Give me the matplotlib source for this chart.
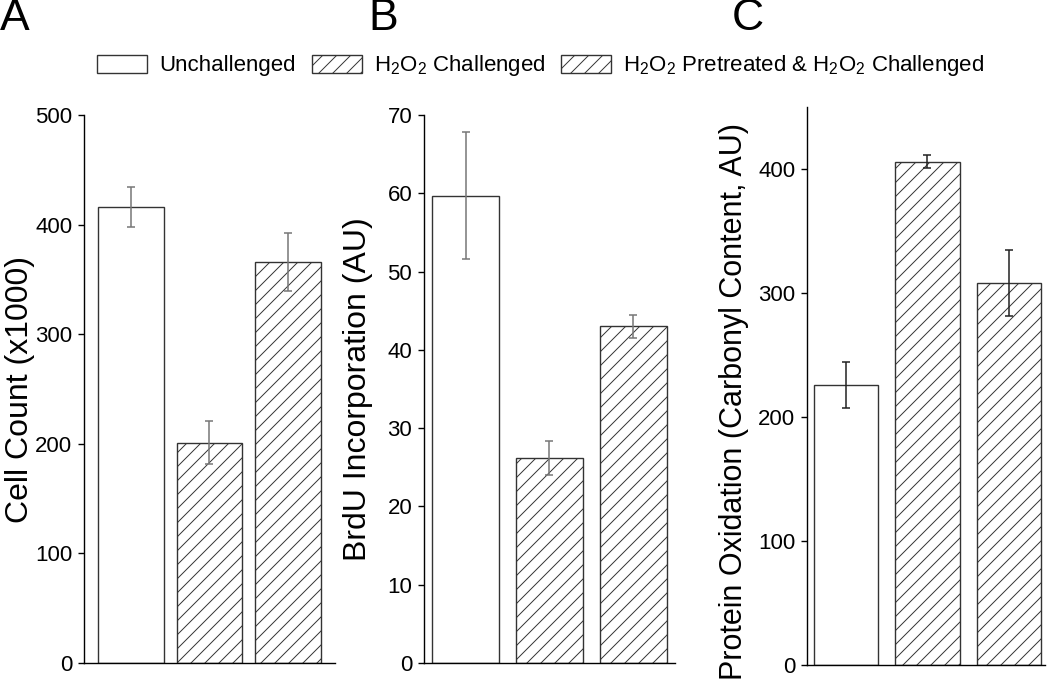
import matplotlib.pyplot as plt
from matplotlib.patches import Patch

# render at 84 dpi so the '//' hatch gets the tighter spacing of the original;
# sizes below are given as if at 100 dpi and scaled by F
DPI = 84
F = 100 / DPI

plt.rcParams['font.family'] = ['Liberation Sans', 'DejaVu Sans']
plt.rcParams['mathtext.default'] = 'regular'
plt.rcParams['hatch.linewidth'] = 0.7 * F

groups = ['Unchallenged', 'H$_2$O$_2$ Challenged',
          'H$_2$O$_2$ Pretreated & H$_2$O$_2$ Challenged']

cell_count = [416, 201, 366]
cell_count_err = [18.5, 19.5, 26.5]

brdu = [59.7, 26.2, 43.0]
brdu_err = [8.1, 2.2, 1.5]

carbonyl = [226, 406, 308]
carbonyl_err = [18.5, 5, 26.5]

ylabels = ['Cell Count (x1000)', 'BrdU Incorporation (AU)',
           'Protein Oxidation (Carbonyl Content, AU)']
panel_letters = ['A', 'B', 'C']

hatches = ['', '//', '//']
edge = '#333333'

fig = plt.figure(figsize=(1050 / DPI, 689 / DPI), dpi=DPI)

# axes rects in figure coords
rects = [
    [0.080, 0.0377, 0.239, 0.7953],
    [0.4038, 0.0377, 0.239, 0.7953],
    [0.7686, 0.0348, 0.227, 0.8099],
]
ylims = [(0, 500), (0, 70), (0, 450)]
yticks = [range(0, 501, 100), range(0, 71, 10), range(0, 401, 100)]
xlims = [(-0.6, 2.6), (-0.5, 2.5), (-0.48, 2.45)]
widths = [0.84, 0.8, 0.79]
err_colors = ['#777777', '#777777', '#222222']
label_x = [-0.195, -0.203, -0.245]
label_y = [0.5, 0.5, 0.473]
label_size = [23, 23, 22]
letter_x = [15, 383, 748]

data = [(cell_count, cell_count_err), (brdu, brdu_err), (carbonyl, carbonyl_err)]

for i, (vals, errs) in enumerate(data):
    ax = fig.add_axes(rects[i])
    for j in range(len(vals)):
        ax.bar(j, vals[j], width=widths[i], color='white', edgecolor=edge,
               linewidth=1.0 * F, hatch=hatches[j])
    ax.errorbar(range(len(vals)), vals, yerr=errs, fmt='none',
                ecolor=err_colors[i], elinewidth=1.1 * F,
                capsize=3 * F, capthick=1.1 * F)
    ax.set_xlim(*xlims[i])
    ax.set_ylim(*ylims[i])
    ax.set_yticks(list(yticks[i]))
    ax.set_xticks([])
    ax.spines['top'].set_visible(False)
    ax.spines['right'].set_visible(False)
    ax.spines['left'].set_linewidth(1.0 * F)
    ax.spines['bottom'].set_linewidth(1.0 * F)
    ax.tick_params(axis='y', direction='out', length=4.5 * F, width=1 * F,
                   labelsize=16 * F, pad=4 * F)
    ax.set_ylabel(ylabels[i], fontsize=label_size[i] * F)
    ax.yaxis.set_label_coords(label_x[i], label_y[i])
    fig.text(letter_x[i] / 1050, 1 - 19 / 689, panel_letters[i],
             fontsize=32 * F, ha='center', va='center')

handles = [Patch(facecolor='white', edgecolor=edge, linewidth=1.0 * F,
                 hatch=h, label=g) for h, g in zip(hatches, groups)]
fig.legend(handles=handles, loc='center', ncol=3,
           bbox_to_anchor=(541 / 1050, 1 - 66 / 689), frameon=False,
           fontsize=16 * F, handlelength=2.25, handleheight=0.9,
           handletextpad=0.55, columnspacing=0.7)

fig.savefig('out.png', dpi=DPI)
